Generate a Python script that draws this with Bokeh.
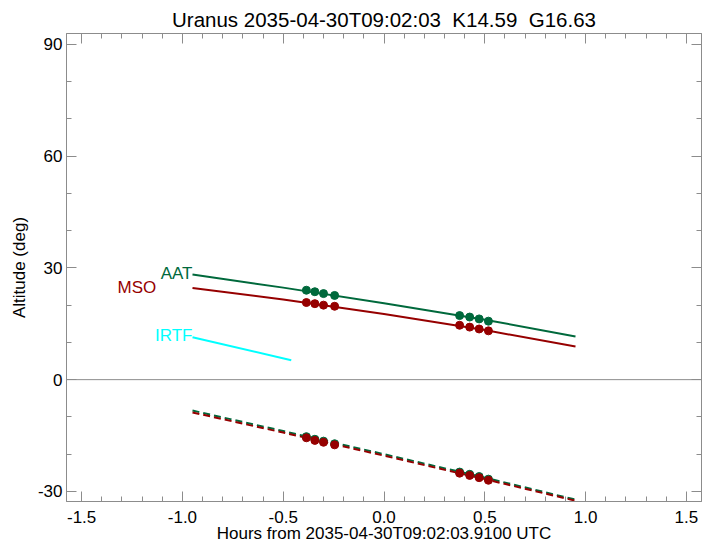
from bokeh.plotting import figure
from bokeh.models import Range1d, LinearAxis, FixedTicker, NumeralTickFormatter, Span
from bokeh.core.properties import value
from bokeh.embed import file_html
from bokeh.resources import INLINE

# ---------------- data ----------------
title_text = "Uranus 2035-04-30T09:02:03 \u00a0K14.59 \u00a0G16.63"
x_label = "Hours from 2035-04-30T09:02:03.9100 UTC"
y_label = "Altitude (deg)"

x_major = [-1.5, -1.0, -0.5, 0.0, 0.5, 1.0, 1.5]
x_minor = [round(-1.5 + 0.1 * i, 1) for i in range(31)]
y_major = [-30, 0, 30, 60, 90]
y_minor = [-30, -20, -10, 0, 10, 20, 30, 40, 50, 60, 70, 80, 90]

# altitude tracks (hours, degrees)
track_t = [-0.95, -0.5, 0.0, 0.5, 0.95]
aat_alt = [28.2, 24.7, 20.5, 16.1, 11.6]
mso_alt = [24.6, 21.5, 17.6, 13.3, 8.9]
irtf_t = [-0.95, -0.46]
irtf_alt = [11.4, 5.2]

# below-horizon (dashed) tracks
aat_low = [-8.3, -13.8, -20.0, -26.3, -32.2]
mso_low = [-8.8, -14.2, -20.4, -26.7, -32.5]

# observation times and altitudes
obs_t = [-0.385, -0.343, -0.300, -0.245, 0.375, 0.425, 0.472, 0.518]
aat_obs = [24.0, 23.6, 23.1, 22.6, 17.2, 16.8, 16.3, 15.7]
mso_obs = [20.7, 20.4, 20.0, 19.7, 14.6, 14.1, 13.6, 13.1]
aat_obs_low = [-15.3, -16.0, -16.5, -17.2, -24.8, -25.4, -26.0, -26.7]
mso_obs_low = [-15.6, -16.3, -16.8, -17.5, -25.1, -25.7, -26.3, -27.0]

site_names = ["AAT", "MSO", "IRTF"]
site_label_x = [-0.95, -1.13, -0.95]
site_label_y = [28.4, 24.6, 11.8]

# ---------------- style ----------------
GREEN = "#00693c"
RED = "#960000"
CYAN = "#00ffff"
FRAME = "#8c8c8c"
FONT = "'Liberation Sans', Arial, Helvetica, sans-serif"

p = figure(frame_width=635, frame_height=468,
           x_range=Range1d(-1.575, 1.575), y_range=Range1d(-32.7, 92.9),
           output_backend="svg", toolbar_location=None,
           x_axis_location=None, y_axis_location=None,
           min_border_left=66, min_border_right=9,
           min_border_top=33, min_border_bottom=43)
p.background_fill_color = "white"
p.border_fill_color = "white"
p.outline_line_color = FRAME
p.outline_line_width = 1
p.xgrid.visible = False
p.ygrid.visible = False

p.title.text = title_text
p.title.align = "center"
p.title.text_font = FONT
p.title.text_font_size = "20.5px"
p.title.text_font_style = "normal"
p.title.text_color = "black"
p.title.standoff = 6

def style_axis(ax, ticks, minors, fmt, show_labels):
    ax.ticker = FixedTicker(ticks=ticks, minor_ticks=minors)
    ax.formatter = NumeralTickFormatter(format=fmt)
    ax.axis_line_color = FRAME
    ax.major_tick_line_color = FRAME
    ax.minor_tick_line_color = FRAME
    ax.major_tick_in = 10
    ax.major_tick_out = 0
    ax.minor_tick_in = 5
    ax.minor_tick_out = 0
    ax.major_label_text_font = FONT
    ax.axis_label_text_font = FONT
    ax.axis_label_text_font_style = "normal"
    ax.axis_label_text_color = "black"
    if show_labels:
        ax.major_label_text_color = "black"
        ax.major_label_text_font_size = "17px"
        ax.axis_label_text_font_size = "17px"
    else:
        ax.major_label_text_color = None
        ax.major_label_text_font_size = "1px"
        ax.major_label_standoff = 0

xb = LinearAxis(axis_label=x_label)
style_axis(xb, x_major, x_minor, "0.0", True)
xb.major_label_standoff = 9
xb.axis_label_standoff = -2
p.add_layout(xb, "below")

xt = LinearAxis()
style_axis(xt, x_major, x_minor, "0.0", False)
p.add_layout(xt, "above")

yl = LinearAxis(axis_label=y_label)
style_axis(yl, y_major, y_minor, "0", True)
yl.major_label_standoff = 4
yl.axis_label_standoff = 6
p.add_layout(yl, "left")

yr = LinearAxis()
style_axis(yr, y_major, y_minor, "0", False)
p.add_layout(yr, "right")

p.add_layout(Span(location=0, dimension="width", line_color=FRAME, line_width=1))

# tracks above horizon
p.line(track_t, aat_alt, line_color=GREEN, line_width=2)
p.line(track_t, mso_alt, line_color=RED, line_width=2)
p.line(irtf_t, irtf_alt, line_color=CYAN, line_width=2)

# tracks below horizon
p.line(track_t, aat_low, line_color=GREEN, line_width=2, line_dash="7 4")
p.line(track_t, mso_low, line_color=RED, line_width=2, line_dash="7 4")

# observation points
p.scatter(obs_t, aat_obs, size=8, fill_color=GREEN, line_color=GREEN)
p.scatter(obs_t, mso_obs, size=8, fill_color=RED, line_color=RED)
p.scatter(obs_t, aat_obs_low, size=8, fill_color=GREEN, line_color=GREEN)
p.scatter(obs_t, mso_obs_low, size=8, fill_color=RED, line_color=RED)

# site labels
site_colors = [GREEN, RED, CYAN]
p.text(site_label_x, site_label_y, text=site_names, text_color=site_colors,
       text_align="right", text_baseline="alphabetic",
       text_font=value(FONT), text_font_size="17px")

open("out.html", "w").write(file_html(p, INLINE))
